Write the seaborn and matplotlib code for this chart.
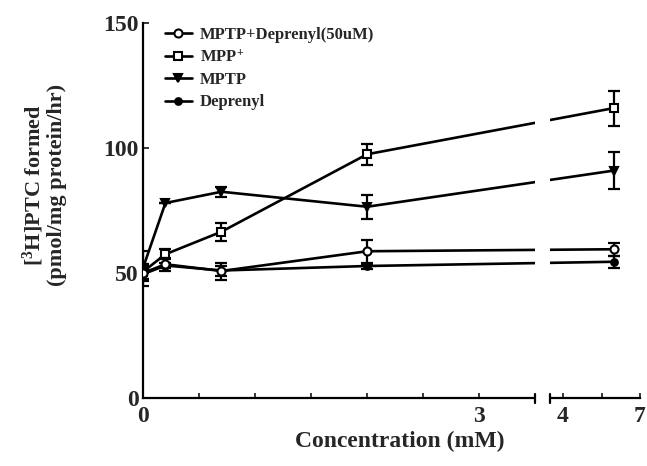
import numpy as np
import pandas as pd
import matplotlib
matplotlib.use("Agg")
import matplotlib.pyplot as plt
import matplotlib.patches as mpatches
import seaborn as sns

# ---- data ----
conc = [0.0, 0.2, 0.7, 2.0, 6.0]
series_names = ["MPTP+Deprenyl(50uM)", "MPP$^{+}$", "MPTP", "Deprenyl"]
mptp_dep = [50.0, 53.5, 50.8, 58.7, 59.5]
mptp_dep_err = [3.0, 2.5, 3.4, 4.5, 2.5]
mpp = [50.5, 57.5, 66.5, 97.5, 116.0]
mpp_err = [3.0, 2.0, 3.5, 4.3, 7.0]
mptp = [52.0, 78.0, 82.5, 76.5, 91.0]
mptp_err = [7.0, 0.0, 2.0, 4.7, 7.5]
deprenyl = [49.5, 53.0, 51.0, 52.8, 54.5]
deprenyl_err = [2.0, 1.0, 2.0, 1.0, 2.5]
x_major = [0, 3, 4, 7]
x_minor = [0.5, 1.0, 1.5, 2.0, 2.5, 5.5]
y_ticks = [0, 50, 100, 150]

sns.set_style("ticks")
plt.rcParams["font.family"] = ["Liberation Serif", "DejaVu Serif"]
plt.rcParams["font.weight"] = "bold"
plt.rcParams["mathtext.fontset"] = "custom"
plt.rcParams["mathtext.rm"] = "Liberation Serif:bold"
plt.rcParams["mathtext.bf"] = "Liberation Serif:bold"
plt.rcParams["mathtext.default"] = "rm"

# broken x-axis scale
BRK, GAP, K = 3.5, 0.134, 0.229

def fwd(x):
    x = np.asarray(x, dtype=float)
    return np.where(x <= BRK, x, BRK + GAP + (x - BRK) * K)

def inv(t):
    t = np.asarray(t, dtype=float)
    return np.where(t <= BRK, t, np.where(t < BRK + GAP, BRK, BRK + (t - BRK - GAP) / K))

fig = plt.figure(figsize=(6.47, 4.66), dpi=100)
ax = fig.add_axes([143 / 647, 68 / 466, 497 / 647, 375 / 466])

vals = [mptp_dep, mpp, mptp, deprenyl]
errs = [mptp_dep_err, mpp_err, mptp_err, deprenyl_err]
styles = [
    dict(marker="o", mfc="white", ms=5.8, z=3.8),
    dict(marker="s", mfc="white", ms=5.8, z=3.6),
    dict(marker="v", mfc="black", ms=5.8, z=3.4),
    dict(marker="o", mfc="black", ms=4.8, z=3.2),
]

df = pd.DataFrame({
    "conc": np.tile(conc, len(series_names)),
    "value": np.concatenate(vals),
    "err": np.concatenate(errs),
    "series": np.repeat(series_names, len(conc)),
})

for i, name in enumerate(series_names):
    sub = df[df["series"] == name]
    st = styles[i]
    ax.errorbar(sub["conc"], sub["value"], yerr=sub["err"], fmt="none",
                ecolor="black", elinewidth=1.6, capsize=4, capthick=1.6, zorder=st["z"] - 0.1)
    sns.lineplot(data=sub, x="conc", y="value", ax=ax, color="black",
                 linewidth=1.9, marker=st["marker"], markersize=st["ms"],
                 markerfacecolor=st["mfc"], markeredgecolor="black",
                 markeredgewidth=1.5, errorbar=None, label=name, zorder=st["z"])

ax.set_xscale("function", functions=(fwd, inv))
ax.set_xlim(0, 7)
ax.set_ylim(0, 150)
ax.set_xticks(x_major)
ax.set_xticklabels([str(v) for v in x_major])
ax.set_xticks(x_minor, minor=True)
ax.set_yticks(y_ticks)
ax.set_yticklabels([str(v) for v in y_ticks])
ax.tick_params(axis="x", which="both", direction="in", length=3.5, width=1.3,
               pad=6, labelsize=17)
ax.tick_params(axis="y", which="both", direction="in", length=4, width=1.3,
               pad=3, labelsize=17)
for lab in ax.get_xticklabels() + ax.get_yticklabels():
    lab.set_fontweight("bold")
ax.set_xlabel("")
ax.set_ylabel("")
sns.despine(ax=ax)
for s in ["left", "bottom"]:
    ax.spines[s].set_linewidth(1.6)
    ax.spines[s].set_color("black")

# axis break mask
total = float(fwd(7))
f0 = float(fwd(BRK)) / total
f1 = (BRK + GAP) / total
ax.add_patch(mpatches.Rectangle((f0, -0.03), f1 - f0, 1.06, transform=ax.transAxes,
                                facecolor="white", edgecolor="none", zorder=5, clip_on=False))
for f in (f0, f1):
    ax.plot([f, f], [-0.012, 0.012], transform=ax.transAxes, color="black",
            lw=1.6, zorder=6, clip_on=False)

# legend
leg = ax.legend(loc="upper left", bbox_to_anchor=(0.044, 0.99), frameon=False,
                prop=dict(family="Liberation Serif", weight="bold", size=12),
                handlelength=1.6, handletextpad=0.5, labelspacing=0.38,
                borderaxespad=0, borderpad=0)

# labels
fig.text(33 / 647, 1 - 185 / 466, "[$^{3}$H]PTC formed", rotation=90,
         ha="center", va="center", fontsize=16, fontweight="bold")
fig.text(57 / 647, 1 - 185 / 466, "(pmol/mg protein/hr)", rotation=90,
         ha="center", va="center", fontsize=16, fontweight="bold")
fig.text(400 / 647, 1 - 441 / 466, "Concentration (mM)", ha="center", va="center",
         fontsize=17, fontweight="bold")

fig.savefig("out.png", dpi=100)
